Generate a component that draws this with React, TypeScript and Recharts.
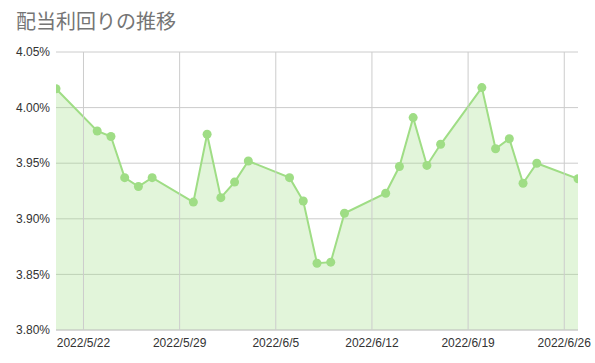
import { AreaChart, Area, XAxis, YAxis, CartesianGrid, ReferenceLine } from "recharts";

// 取引日と配当利回り(%)
const dates = [
  "2022-05-20", "2022-05-23", "2022-05-24", "2022-05-25", "2022-05-26", "2022-05-27",
  "2022-05-30", "2022-05-31", "2022-06-01", "2022-06-02", "2022-06-03",
  "2022-06-06", "2022-06-07", "2022-06-08", "2022-06-09", "2022-06-10",
  "2022-06-13", "2022-06-14", "2022-06-15", "2022-06-16", "2022-06-17",
  "2022-06-20", "2022-06-21", "2022-06-22", "2022-06-23", "2022-06-24",
  "2022-06-27",
];
const yields = [
  4.017, 3.979, 3.974, 3.937, 3.929, 3.937,
  3.915, 3.976, 3.919, 3.933, 3.952,
  3.937, 3.916, 3.860, 3.861, 3.905,
  3.923, 3.947, 3.991, 3.948, 3.967,
  4.018, 3.963, 3.972, 3.932, 3.950,
  3.936,
];
const xTicks = ["2022-05-22", "2022-05-29", "2022-06-05", "2022-06-12", "2022-06-19", "2022-06-26"];
const yTicks = [3.8, 3.85, 3.9, 3.95, 4.0, 4.05];

const toTime = (s: string) => Date.parse(s + "T00:00:00Z");

const data = dates.map((d, i) => ({ t: toTime(d), value: yields[i] }));

const fmtDate = (t: number) => {
  const d = new Date(t);
  return `${d.getUTCFullYear()}/${d.getUTCMonth() + 1}/${d.getUTCDate()}`;
};

const GREEN = "#9fdd85";

export default function App() {
  return (
    <div style={{ position: "absolute", left: 0, top: 0, width: 595, height: 363, background: "#fff" }}>
      <div
        style={{
          position: "absolute",
          left: 16,
          top: 6,
          fontSize: 20,
          color: "#757575",
          fontFamily: "'Noto Sans CJK JP', sans-serif",
        }}
      >
        配当利回りの推移
      </div>
      <AreaChart
        width={595}
        height={363}
        data={data}
        margin={{ top: 52, right: 17, left: 0, bottom: 0 }}
        style={{ fontFamily: "'Liberation Sans', Arial, sans-serif" }}
      >
        <CartesianGrid stroke="#cccccc" strokeWidth={1} vertical={false} />
        {/* vertical grid only at the week ticks */}
        {xTicks.map((t) => (
          <ReferenceLine key={t} x={toTime(t)} stroke="#cccccc" strokeWidth={1} />
        ))}
        <XAxis
          dataKey="t"
          type="number"
          scale="time"
          domain={[toTime("2022-05-20"), toTime("2022-06-27")]}
          allowDataOverflow
          ticks={xTicks.map(toTime)}
          tickFormatter={fmtDate}
          height={33}
          axisLine={{ stroke: "#cccccc" }}
          tickLine={false}
          tick={{ fontSize: 12, fill: "#333333" }}
        />
        <YAxis
          domain={[3.8, 4.05]}
          ticks={yTicks}
          tickFormatter={(v: number) => `${v.toFixed(2)}%`}
          width={56}
          axisLine={false}
          tickLine={false}
          tickSize={4}
          tickMargin={2}
          tick={{ fontSize: 12, fill: "#333333" }}
        />
        <Area
          type="linear"
          dataKey="value"
          stroke={GREEN}
          strokeWidth={2}
          fill={GREEN}
          fillOpacity={0.3}
          baseValue={3.8}
          dot={{ r: 4.5, fill: GREEN, fillOpacity: 1, stroke: "none", strokeWidth: 0, clipDot: true }}
          activeDot={false}
          isAnimationActive={false}
        />
      </AreaChart>
    </div>
  );
}
